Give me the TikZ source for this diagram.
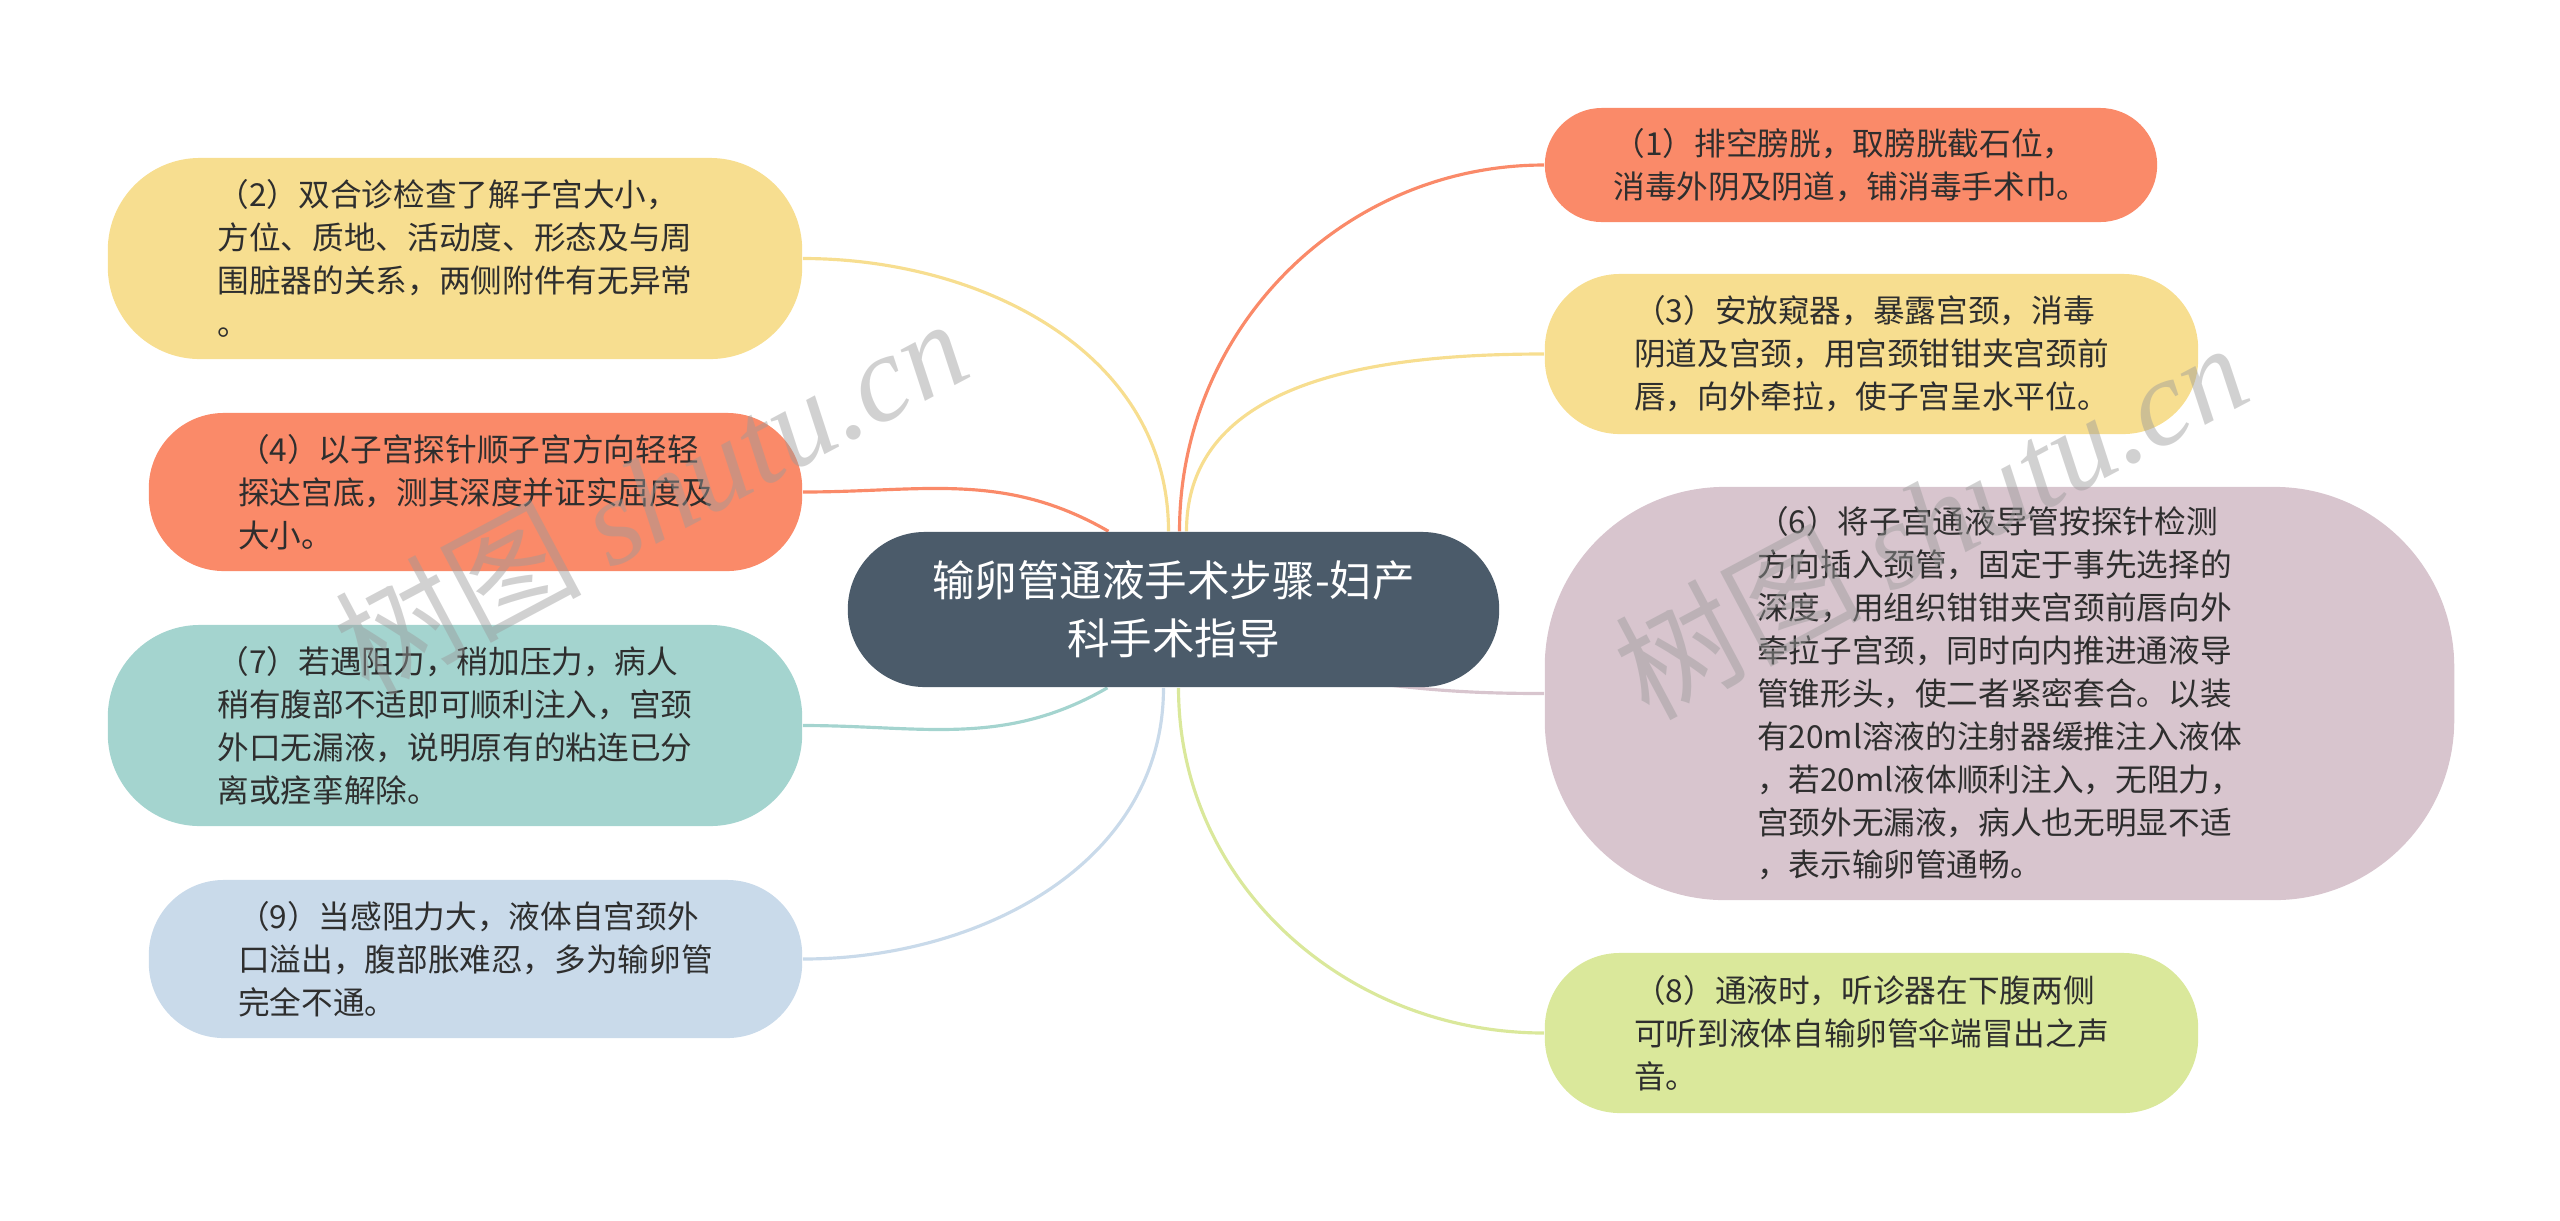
\documentclass[tikz,border=0pt]{standalone}
\usepackage{fontspec}
\setmainfont{Noto Sans CJK SC}
\newfontfamily\wmlatin{Liberation Serif}[UprightFont={* Italic}]
\usepackage{tikz}
\usetikzlibrary{backgrounds}

\definecolor{slate}{HTML}{4B5B6A}
\definecolor{coral}{HTML}{FA8A69}
\definecolor{sand}{HTML}{F7DE90}
\definecolor{teal}{HTML}{A4D4CF}
\definecolor{sky}{HTML}{C9DAEA}
\definecolor{mauve}{HTML}{D8C5CE}
\definecolor{lime}{HTML}{DAE89B}
\definecolor{ink}{HTML}{2E2E2E}
\definecolor{mark}{HTML}{9A9A9A}

\begin{document}
\begin{tikzpicture}[x=0.01cm, y=0.01cm]
        % Estilos para el tema central, las burbujas y las ramas
        \tikzstyle{topic} = [fill=slate, text=white, align=center, inner sep=0pt, font=\fontsize{12.1pt}{16.5pt}\selectfont]
        \tikzstyle{bubble} = [text=ink, align=left, inner sep=0pt, font=\fontsize{9pt}{12.2pt}\selectfont]
        \tikzstyle{branch} = [line width=0.9pt]
        \tikzstyle{watermark} = [text=mark, opacity=0.45, rotate=28, font=\fontsize{35pt}{35pt}\selectfont]

        \useasboundingbox (0,0) rectangle (2560,-1220);

        % Nodes
        \node [topic, minimum width=6.51cm, minimum height=1.55cm, rounded corners=0.77cm] (topic) at (1173.5,-609.5)
              {输卵管通液手术步骤-妇产\\科手术指导};

        \node [bubble, fill=coral, minimum width=6.12cm, minimum height=1.14cm, rounded corners=0.57cm] (step1) at (1851,-165)
              {（1）排空膀胱，取膀胱截石位，\\消毒外阴及阴道，铺消毒手术巾。};
        \node [bubble, fill=sand, minimum width=6.53cm, minimum height=1.60cm, rounded corners=0.75cm] (step3) at (1871.5,-354)
              {（3）安放窥器，暴露宫颈，消毒\\阴道及宫颈，用宫颈钳钳夹宫颈前\\唇，向外牵拉，使子宫呈水平位。};
        \node [bubble, fill=mauve, minimum width=9.09cm, minimum height=4.13cm, rounded corners=1.8cm] (step6) at (1999.5,-693.5)
              {（6）将子宫通液导管按探针检测\\方向插入颈管，固定于事先选择的\\深度，用组织钳钳夹宫颈前唇向外\\牵拉子宫颈，同时向内推进通液导\\管锥形头，使二者紧密套合。以装\\有20ml溶液的注射器缓推注入液体\\，若20ml液体顺利注入，无阻力，\\宫颈外无漏液，病人也无明显不适\\，表示输卵管通畅。};
        \node [bubble, fill=lime, minimum width=6.53cm, minimum height=1.60cm, rounded corners=0.75cm] (step8) at (1871.5,-1033)
              {（8）通液时，听诊器在下腹两侧\\可听到液体自输卵管伞端冒出之声\\音。};

        \node [bubble, fill=sand, minimum width=6.94cm, minimum height=2.01cm, rounded corners=0.92cm] (step2) at (455,-258.5)
              {（2）双合诊检查了解子宫大小，\\方位、质地、活动度、形态及与周\\围脏器的关系，两侧附件有无异常\\。};
        \node [bubble, fill=coral, minimum width=6.53cm, minimum height=1.58cm, rounded corners=0.75cm] (step4) at (475.5,-492)
              {（4）以子宫探针顺子宫方向轻轻\\探达宫底，测其深度并证实屈度及\\大小。};
        \node [bubble, fill=teal, minimum width=6.94cm, minimum height=2.01cm, rounded corners=0.92cm] (step7) at (455,-725.5)
              {（7）若遇阻力，稍加压力，病人\\稍有腹部不适即可顺利注入，宫颈\\外口无漏液，说明原有的粘连已分\\离或痉挛解除。};
        \node [bubble, fill=sky, minimum width=6.53cm, minimum height=1.58cm, rounded corners=0.75cm] (step9) at (475.5,-959)
              {（9）当感阻力大，液体自宫颈外\\口溢出，腹部胀难忍，多为输卵管\\完全不通。};

        % Lines
        \begin{pgfonlayer}{background}
        \draw [branch, draw=coral] ([xshift=0.06cm]topic.north) to[out=90, in=180] (step1.west);
        \draw [branch, draw=sand] ([xshift=0.13cm]topic.north) to[out=90, in=180] (step3.west);
        \draw [branch, draw=mauve] ([xshift=1.6cm, yshift=0.1cm]topic.south) to[out=-8, in=180] (step6.west);
        \draw [branch, draw=lime] ([xshift=0.05cm]topic.south) to[out=-90, in=180] (step8.west);
        \draw [branch, draw=sand] ([xshift=-0.05cm]topic.north) to[out=90, in=0] (step2.east);
        \draw [branch, draw=coral] ([xshift=-0.65cm]topic.north) to[out=150, in=0] (step4.east);
        \draw [branch, draw=teal] ([xshift=-0.66cm]topic.south) to[out=-150, in=0] (step7.east);
        \draw [branch, draw=sky] ([xshift=-0.1cm]topic.south) to[out=-90, in=0] (step9.east);
        \end{pgfonlayer}

        % Watermarks
        \node [watermark] (markleft) at (650,-495) {树图 {\wmlatin shutu.cn}};
        \node [watermark] (markright) at (1930,-519) {树图 {\wmlatin shutu.cn}};

      \end{tikzpicture}
\end{document}
